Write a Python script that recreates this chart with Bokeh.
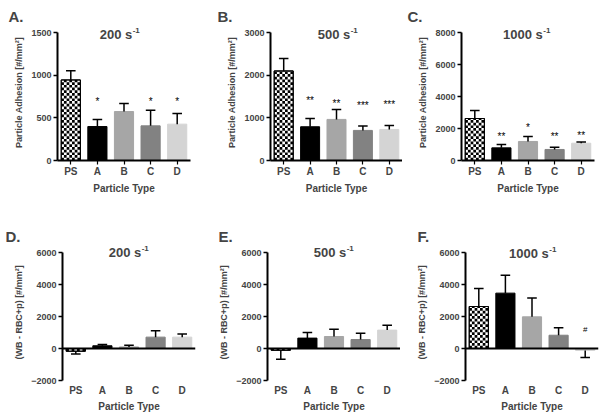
import math
from bokeh.plotting import figure
from bokeh.layouts import column, row
from bokeh.models import Range1d, FixedTicker, Label, Span
from bokeh.embed import file_html
from bokeh.resources import INLINE
from bokeh.core.properties import value

# ---------------- data ----------------
categories = ["PS", "A", "B", "C", "D"]
bar_colors = ["#ffffff", "#000000", "#a6a6a6", "#828282", "#d4d4d4"]

panel_letters = ["A.", "B.", "C.", "D.", "E.", "F."]
shear_rates = ["200", "500", "1000", "200", "500", "1000"]

# Particle adhesion [#/mm2]  (mean, SD)
adh_200_mean = [944, 398, 574, 406, 426]
adh_200_sd = [109, 82, 94, 184, 125]
adh_500_mean = [2099, 791, 963, 705, 728]
adh_500_sd = [290, 196, 235, 102, 94]
adh_1000_mean = [2625, 790, 1190, 690, 1080]
adh_1000_sd = [500, 210, 310, 140, 80]

# (WB - RBC+p) [#/mm2]  (mean, SD)
diff_200_mean = [-170, 170, 100, 710, 710]
diff_200_sd = [180, 80, 110, 400, 190]
diff_500_mean = [-110, 650, 750, 560, 1150]
diff_500_sd = [560, 350, 460, 400, 310]
diff_1000_mean = [2625, 3460, 1980, 830, -125]
diff_1000_sd = [1125, 1120, 1170, 460, 435]

# significance marks and their heights
marks_200 = ["", "*", "", "*", "*"]
marks_200_y = [0, 720, 0, 720, 720]
marks_500 = ["", "**", "**", "***", "***"]
marks_500_y = [0, 1470, 1400, 1340, 1360]
marks_1000 = ["", "**", "*", "**", "**"]
marks_1000_y = [0, 1660, 2250, 1660, 1700]
marks_diff_1000 = ["", "", "", "", "#"]
marks_diff_1000_y = [0, 0, 0, 0, 1190]

adh_ticks_200 = [0, 500, 1000, 1500]
adh_ticks_500 = [0, 1000, 2000, 3000]
adh_ticks_1000 = [0, 2000, 4000, 6000, 8000]
diff_ticks = [-2000, 0, 2000, 4000, 6000]

ylabel_top = "Particle Adhesion [#/mm\u00b2]"
ylabel_bottom = "(WB - RBC+p) [#/mm\u00b2]"
xlabel = "Particle Type"

FONT = "Liberation Sans"

# page geometry of each panel (pixels)
# fig_l, frame_l, frame_r, fig_r, fig_t, frame_t, ymax_px, frame_b, fig_b,
# letter_x, title_cx, title_cy
geoms = [
    (0, 57, 190, 200, 0, 24, 32, 160, 205, 8, 119, 33.5),
    (200, 270, 402, 402, 0, 24, 32, 160, 205, 217, 337, 33.5),
    (402, 461, 594, 604, 0, 24, 32, 160, 205, 407, 526, 33.5),
    (0, 62, 195, 200, 205, 244, 252, 380, 416, 5, 128, 252),
    (200, 267, 400, 400, 205, 244, 252, 380, 416, 218, 333, 252),
    (400, 465, 598, 604, 205, 244, 252, 380, 416, 417, 532, 253),
]


def make_panel(k, means, sds, marks, marks_y, yticks, ylabel, top_row):
    (fig_l, frame_l, frame_r, fig_r, fig_t, frame_t, ymax_px, frame_b, fig_b,
     letter_x, title_cx, title_cy) = geoms[k]
    ymin, ymax = yticks[0], yticks[-1]
    frame_w = frame_r - frame_l
    frame_h = frame_b - frame_t
    upp = (ymax - ymin) / (frame_b - ymax_px)  # data units per pixel (y)
    ytop = ymax + (ymax_px - frame_t) * upp
    ppx = frame_w / 5.0  # pixels per category unit

    def xd(px):
        return -0.5 + (px - frame_l) / ppx

    def yd(py):
        return ytop - (py - frame_t) * upp

    p = figure(frame_width=frame_w, frame_height=frame_h,
               min_border_left=frame_l - fig_l, min_border_right=fig_r - frame_r,
               min_border_top=frame_t - fig_t, min_border_bottom=fig_b - frame_b,
               x_range=Range1d(-0.5, 4.5), y_range=Range1d(ymin, ytop),
               output_backend="svg", toolbar_location=None)
    p.outline_line_color = None
    p.xgrid.visible = False
    p.ygrid.visible = False
    p.background_fill_color = "white"
    p.border_fill_color = "white"

    # panel letter as title
    p.title.text = panel_letters[k]
    p.title.align = "left"
    p.title.offset = letter_x - frame_l
    p.title.standoff = 0
    p.title.text_font = FONT
    p.title.text_font_style = "bold"
    p.title.text_font_size = "15px"

    idx = list(range(len(categories)))
    bw = 0.72
    p.vbar(x=idx, width=bw, top=means, bottom=0, fill_color=bar_colors,
           line_color=["#000000"] + bar_colors[1:], line_width=1)

    # checker pattern of the PS bar
    cell = 2.7
    dx = cell / ppx
    dy = cell * upp
    m0 = means[0]
    lo, hi = (0, m0) if m0 >= 0 else (m0, 0)
    x0 = idx[0] - bw / 2
    x1 = idx[0] + bw / 2
    L, R, B, T = [], [], [], []
    ni = int(math.ceil((x1 - x0) / dx))
    nj = int(math.ceil((hi - lo) / dy))
    for i in range(ni):
        for j in range(nj):
            if (i + j) % 2 == 0:
                L.append(x0 + i * dx)
                R.append(min(x0 + (i + 1) * dx, x1))
                B.append(lo + j * dy)
                T.append(min(lo + (j + 1) * dy, hi))
    p.quad(left=L, right=R, bottom=B, top=T, fill_color="black", line_color=None)
    p.vbar(x=[idx[0]], width=bw, top=[m0], bottom=0, fill_color=None,
           line_color="black", line_width=1)

    # one-sided error bars
    ends = [m + s if m >= 0 else m - s for m, s in zip(means, sds)]
    p.segment(x0=idx, y0=means, x1=idx, y1=ends, line_color="black", line_width=1.5)
    cw = 0.18
    p.segment(x0=[i - cw for i in idx], y0=ends, x1=[i + cw for i in idx], y1=ends,
              line_color="black", line_width=1.5)

    # significance marks
    mx = [i for i, t in zip(idx, marks) if t]
    my = [y for y, t in zip(marks_y, marks) if t]
    mt = [t for t in marks if t]
    if mt:
        off = 0 if mt[0] == "#" else 2.5
        p.text(x=mx, y=my, text=mt, text_align="center", text_baseline="middle",
               y_offset=off, text_font=value(FONT),
               text_font_size="8px" if mt[0] == "#" else "10px", text_color="black")

    if not top_row:
        p.add_layout(Span(location=0, dimension="width", line_color="black",
                          line_width=2))

    # axes
    ya = p.yaxis[0]
    ya.ticker = FixedTicker(ticks=yticks)
    ya.bounds = (ymin, ymax)
    ya.axis_line_width = 2
    ya.major_tick_line_width = 1.5
    ya.major_tick_out = 4
    ya.major_tick_in = 0
    ya.minor_tick_line_color = None
    ya.major_label_standoff = 2
    ya.major_label_text_font = FONT
    ya.major_label_text_font_style = "bold"
    ya.major_label_text_font_size = "9px"
    ya.axis_label = ylabel
    ya.axis_label_text_font = FONT
    ya.axis_label_text_font_style = "bold"
    ya.axis_label_text_font_size = "9px"
    ya.axis_label_standoff = 4

    xa = p.xaxis[0]
    xa.ticker = FixedTicker(ticks=idx)
    xa.major_label_overrides = {i: c for i, c in zip(idx, categories)}
    xa.minor_tick_line_color = None
    xa.major_label_text_font = FONT
    xa.major_label_text_font_style = "bold"
    xa.major_label_text_font_size = "10px"
    xa.axis_label = xlabel
    xa.axis_label_text_font = FONT
    xa.axis_label_text_font_style = "bold"
    xa.axis_label_text_font_size = "10px"
    xa.axis_label_standoff = 3
    if top_row:
        xa.axis_line_width = 2
        xa.major_tick_line_width = 1.2
        xa.major_tick_out = 4
        xa.major_tick_in = 0
        xa.major_label_standoff = 1
    else:
        xa.axis_line_color = None
        xa.major_tick_line_color = None
        xa.major_tick_out = 0
        xa.major_tick_in = 0
        xa.major_label_standoff = 4
        xa.axis_label_standoff = 2

    # shear-rate title with superscript
    main = shear_rates[k] + " s"
    main_w = (len(shear_rates[k]) * 0.556 + 0.278 + 0.556) * 13
    sup_w = (0.333 + 0.556) * 8
    left_px = title_cx - (main_w + sup_w) / 2
    p.add_layout(Label(x=xd(left_px), y=yd(title_cy), text=main,
                       text_font=FONT, text_font_style="bold", text_font_size="13px",
                       text_baseline="middle", text_align="left"))
    p.add_layout(Label(x=xd(left_px + main_w + 0.5), y=yd(title_cy - 4), text="-1",
                       text_font=FONT, text_font_style="bold", text_font_size="8px",
                       text_baseline="middle", text_align="left"))
    return p


pA = make_panel(0, adh_200_mean, adh_200_sd, marks_200, marks_200_y, adh_ticks_200, ylabel_top, True)
pB = make_panel(1, adh_500_mean, adh_500_sd, marks_500, marks_500_y, adh_ticks_500, ylabel_top, True)
pC = make_panel(2, adh_1000_mean, adh_1000_sd, marks_1000, marks_1000_y, adh_ticks_1000, ylabel_top, True)
pD = make_panel(3, diff_200_mean, diff_200_sd, ["", "", "", "", ""], [0] * 5, diff_ticks, ylabel_bottom, False)
pE = make_panel(4, diff_500_mean, diff_500_sd, ["", "", "", "", ""], [0] * 5, diff_ticks, ylabel_bottom, False)
pF = make_panel(5, diff_1000_mean, diff_1000_sd, marks_diff_1000, marks_diff_1000_y, diff_ticks, ylabel_bottom, False)

layout = column(row(pA, pB, pC), row(pD, pE, pF))
open("out.html", "w").write(file_html(layout, INLINE))
